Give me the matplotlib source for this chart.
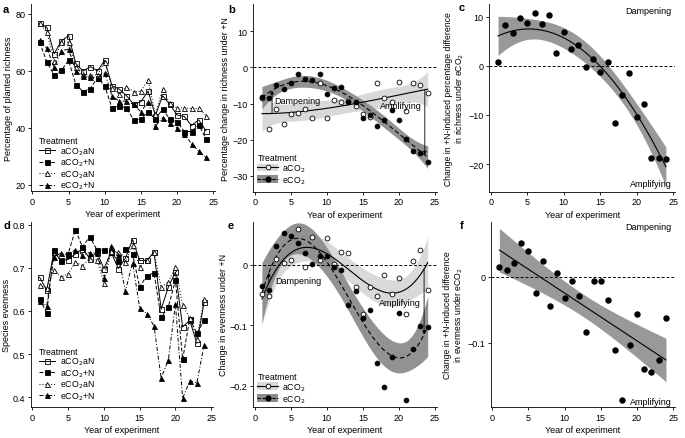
import matplotlib
matplotlib.use("Agg")
import matplotlib.pyplot as plt
from matplotlib.patches import Patch
from matplotlib.lines import Line2D
from matplotlib.ticker import FuncFormatter
import numpy as np

plt.rcParams['font.family'] = ['Liberation Sans', 'DejaVu Sans']
plt.rcParams['font.size'] = 6
plt.rcParams['axes.linewidth'] = 0.6
plt.rcParams['xtick.major.width'] = 0.6
plt.rcParams['ytick.major.width'] = 0.6
plt.rcParams['xtick.major.size'] = 2.5
plt.rcParams['ytick.major.size'] = 2.5
plt.rcParams['xtick.labelsize'] = 6.5
plt.rcParams['ytick.labelsize'] = 6.5

years = np.arange(1, 25)

# panel a: percentage of planted richness
rich_aa = [76.7, 75.3, 66.0, 70.5, 72.4, 62.6, 59.9, 61.5, 60.0, 63.7, 54.8, 53.6,
           51.3, 48.3, 49.2, 52.9, 44.3, 51.3, 48.3, 44.5, 44.0, 40.8, 42.8, 39.0]
rich_an = [70.0, 63.1, 58.5, 60.2, 63.7, 55.2, 52.7, 53.8, 57.6, 54.7, 47.0, 47.7,
           46.9, 42.8, 43.0, 45.7, 43.1, 46.5, 43.1, 42.2, 38.7, 38.7, 41.0, 36.2]
rich_ea = [76.8, 73.5, 63.6, 70.3, 70.0, 61.2, 58.8, 58.5, 58.6, 63.2, 54.1, 51.8,
           54.5, 52.6, 52.9, 56.8, 44.7, 53.5, 48.6, 47.0, 47.0, 46.8, 46.8, 44.3]
rich_en = [70.8, 67.9, 61.2, 67.1, 67.6, 60.0, 58.2, 57.9, 57.6, 59.4, 51.2, 49.4,
           49.4, 48.2, 45.6, 49.2, 40.6, 43.5, 41.8, 40.0, 37.9, 34.4, 31.8, 29.6]

# panel b: change in richness under +N
drich_a = [-8.6, -17.1, -11.6, -15.7, -13.0, -12.7, -11.6, -13.9, -4.4, -14.1, -9.1, -9.5,
           -9.3, -10.8, -13.0, -13.7, -4.4, -8.6, -9.5, -4.0, -12.0, -4.4, -4.9, -7.2]
drich_e = [-8.1, -8.6, -4.9, -6.0, -4.2, -1.9, -3.1, -3.4, -1.9, -7.4, -5.8, -5.4,
           -9.7, -9.7, -14.1, -13.1, -16.2, -14.6, -11.9, -14.5, -19.9, -23.1, -23.6, -26.2]

# panel c: eCO2 effect on richness response
rich_diff = [0.7, 8.3, 6.6, 9.7, 8.7, 10.7, 8.6, 10.4, 2.6, 6.8, 3.4, 4.3,
             -0.3, 1.4, -1.2, 0.7, -11.7, -5.9, -1.4, -10.4, -7.8, -18.7, -18.8, -18.9]

# panel d: species evenness
even_aa = [0.678, 0.648, 0.736, 0.717, 0.719, 0.732, 0.744, 0.722, 0.736, 0.698, 0.736, 0.698,
           0.722, 0.765, 0.717, 0.717, 0.736, 0.604, 0.655, 0.690, 0.563, 0.578, 0.525, 0.620]
even_an = [0.627, 0.596, 0.742, 0.715, 0.732, 0.788, 0.748, 0.772, 0.742, 0.740, 0.736, 0.715,
           0.744, 0.732, 0.655, 0.682, 0.688, 0.585, 0.609, 0.671, 0.488, 0.582, 0.548, 0.578]
even_ea = [0.659, 0.654, 0.694, 0.678, 0.686, 0.713, 0.705, 0.721, 0.718, 0.665, 0.738, 0.736,
           0.713, 0.752, 0.702, 0.717, 0.736, 0.655, 0.667, 0.702, 0.613, 0.584, 0.536, 0.627]
even_en = [0.622, 0.612, 0.725, 0.734, 0.730, 0.742, 0.730, 0.735, 0.734, 0.676, 0.750, 0.730,
           0.646, 0.712, 0.607, 0.594, 0.565, 0.445, 0.486, 0.615, 0.398, 0.438, 0.434, 0.521]

# panel e: change in evenness under +N
deven_a = [-0.049, -0.052, 0.010, 0.004, 0.009, 0.060, -0.003, 0.047, 0.008, 0.044, 0.001, 0.021,
           0.019, -0.036, -0.082, -0.037, -0.052, -0.017, -0.049, -0.022, -0.082, 0.007, 0.024, -0.041]
deven_e = [-0.035, -0.041, 0.031, 0.053, 0.048, 0.036, 0.020, 0.001, 0.014, 0.014, -0.004, -0.009,
           -0.066, -0.043, -0.088, -0.074, -0.163, -0.203, -0.152, -0.079, -0.224, -0.139, -0.102, -0.103]

# panel f: eCO2 effect on evenness response
even_diff = [0.015, 0.010, 0.021, 0.050, 0.039, -0.024, 0.024, -0.045, 0.006, -0.032, -0.006, -0.029,
             -0.083, -0.006, -0.006, -0.036, -0.110, -0.186, -0.103, -0.057, -0.140, -0.144, -0.125, -0.062]


def fit_band(x, y, deg, xs):
    x = np.asarray(x, float)
    y = np.asarray(y, float)
    X = np.vander(x, deg + 1)
    coef = np.linalg.lstsq(X, y, rcond=None)[0]
    resid = y - X @ coef
    s2 = resid @ resid / (len(x) - deg - 1)
    cov = s2 * np.linalg.inv(X.T @ X)
    Xs = np.vander(xs, deg + 1)
    yhat = Xs @ coef
    se = np.sqrt(np.einsum('ij,jk,ik->i', Xs, cov, Xs))
    return yhat, yhat - 2.086 * se, yhat + 2.086 * se, np.poly1d(coef)


def tickfmt(v, pos):
    if abs(v) < 1e-9:
        return '0'
    return ('%g' % v).replace('-', '\u2212')


def style(ax, ylim, yticks, ylabel, yfs=6.5):
    ax.patch.set_visible(False)
    ax.spines['top'].set_visible(False)
    ax.spines['right'].set_visible(False)
    ax.set_xlim(-0.2, 25.25)
    ax.set_ylim(*ylim)
    ax.set_xticks([0, 5, 10, 15, 20, 25])
    ax.set_yticks(yticks)
    ax.yaxis.set_major_formatter(FuncFormatter(tickfmt))
    ax.set_xlabel('Year of experiment', fontsize=6.5, labelpad=2.5)
    ax.set_ylabel(ylabel, fontsize=yfs, labelpad=1.5, linespacing=1.1)
    ax.tick_params(pad=1.5)


fig = plt.figure(figsize=(6.85, 4.39), dpi=100)
W, H = 685., 439.


def add_ax(l, r, t, b):
    return fig.add_axes([l / W, 1 - b / H, (r - l) / W, (b - t) / H])


ax_a = add_ax(31, 215, 5, 192.3)
ax_b = add_ax(253.3, 436.7, 5, 192.5)
ax_c = add_ax(489.3, 675, 5, 192.5)
ax_d = add_ax(31, 213, 222.5, 408.3)
ax_e = add_ax(253.3, 436.7, 222.5, 408.3)
ax_f = add_ax(490.7, 675, 222.5, 408.3)

treat_styles = [
    ('aCO$_2$aN', '-', 's', 'none'),
    ('aCO$_2$+N', (0, (4, 2)), 's', 'black'),
    ('eCO$_2$aN', (0, (1, 2)), '^', 'white'),
    ('eCO$_2$+N', (0, (4, 2, 1, 2)), '^', 'black'),
]


def treatment_panel(ax, series, ylim, yticks, ylabel, anchor):
    for (lab, ls, mk, mfc), vals in zip(treat_styles, series):
        ax.plot(years, vals, ls=ls, marker=mk, mfc=mfc, mec='black', color='black',
                lw=0.7, ms=3.6, mew=0.6, label=lab)
    style(ax, ylim, yticks, ylabel)
    leg = ax.legend(loc='lower left', frameon=False, title='Treatment', fontsize=6.3,
                    title_fontsize=6.3, handlelength=1.85, handletextpad=0.55,
                    labelspacing=0.0, borderaxespad=0.0, borderpad=0.0,
                    bbox_to_anchor=anchor)
    leg._legend_box.align = 'left'


treatment_panel(ax_a, [rich_aa, rich_an, rich_ea, rich_en], (17.7, 83.5), [20, 40, 60, 80],
                'Percentage of planted richness', (0.045, 0.0))
treatment_panel(ax_d, [even_aa, even_an, even_ea, even_en], (0.377, 0.807),
                [0.4, 0.5, 0.6, 0.7, 0.8], 'Species evenness', (0.045, 0.03))

xs = np.linspace(1, 24, 200)
light = '#d9d9d9'
dark = '#8c8c8c'


def response_panel(ax, ya, ye, ylim, yticks, ylabel, damp, amp, anchor):
    ha, la, ua, pa = fit_band(years, ya, 3, xs)
    he, le, ue, pe = fit_band(years, ye, 3, xs)
    ax.fill_between(xs, la, ua, color=light, lw=0, zorder=1)
    ax.fill_between(xs, le, ue, color=dark, lw=0, zorder=2, alpha=0.95)
    ax.axhline(0, color='black', lw=0.7, ls=(0, (3, 2)), zorder=3)
    ax.plot(xs, ha, color='black', lw=0.8, zorder=4)
    ax.plot(xs, he, color='black', lw=0.8, ls=(0, (4, 2.5)), zorder=4)
    ax.scatter(years, ya, s=12, facecolor='white', edgecolor='black', lw=0.6, zorder=5)
    ax.scatter(years, ye, s=12, facecolor='black', edgecolor='black', lw=0.6, zorder=5)
    # dampening / amplifying arrows between the two fitted curves
    xd, tdx, tdy = damp
    ax.annotate('', xy=(xd, pe(xd)), xytext=(xd, pa(xd)),
                arrowprops=dict(arrowstyle='-|>', lw=0.6, color='black',
                                mutation_scale=5, shrinkA=0, shrinkB=0), zorder=6)
    ax.text(tdx, tdy, 'Dampening', fontsize=6.5, ha='left', va='center', zorder=6)
    xa, tax, tay = amp
    ax.annotate('', xy=(xa, pe(xa)), xytext=(xa, pa(xa)),
                arrowprops=dict(arrowstyle='-|>', lw=0.6, color='black',
                                mutation_scale=5, shrinkA=0, shrinkB=0), zorder=6)
    ax.text(tax, tay, 'Amplifying', fontsize=6.5, ha='right', va='center', zorder=6)
    style(ax, ylim, yticks, ylabel)
    h_a = (Patch(facecolor=light, edgecolor='none'),
           Line2D([], [], color='black', lw=0.8, marker='o', mfc='white', mec='black', ms=3.4, mew=0.6))
    h_e = (Patch(facecolor=dark, edgecolor='none'),
           Line2D([], [], color='black', lw=0.8, ls=(0, (3, 1.5)), marker='o', mfc='black',
                  mec='black', ms=3.4))
    leg = ax.legend([h_a, h_e], ['aCO$_2$', 'eCO$_2$'], loc='lower left', frameon=False,
                    title='Treatment', fontsize=6.3, title_fontsize=6.3, handlelength=2.4,
                    handleheight=1.0, handletextpad=0.4, labelspacing=0.05, borderaxespad=0.0,
                    borderpad=0.0, bbox_to_anchor=anchor)
    leg._legend_box.align = 'left'


response_panel(ax_b, drich_a, drich_e, (-34.4, 17.6), [-30, -20, -10, 0, 10],
               'Percentage change in richness under +N',
               (2.4, 2.7, -9.3), (23.6, 23.2, -10.5), (0.022, 0.03))
response_panel(ax_e, deven_a, deven_e, (-0.236, 0.072), [-0.2, -0.1, 0],
               'Change in evenness under +N',
               (1.95, 2.8, -0.025), (23.5, 23.1, -0.063), (0.022, 0.015))


def diff_panel(ax, y, deg, ylim, yticks, ylabel, top_y, bot_y):
    h, lo, hi, p = fit_band(years, y, deg, xs)
    ax.fill_between(xs, lo, hi, color='#999999', lw=0, zorder=1)
    ax.axhline(0, color='black', lw=0.7, ls=(0, (3, 2)), zorder=2)
    ax.plot(xs, h, color='black', lw=0.8, zorder=3)
    ax.scatter(years, y, s=13, color='black', zorder=4)
    ax.text(24.8, top_y, 'Dampening', fontsize=6.5, ha='right', va='center')
    ax.text(24.8, bot_y, 'Amplifying', fontsize=6.5, ha='right', va='center')
    style(ax, ylim, yticks, ylabel, yfs=6.2)


diff_panel(ax_c, rich_diff, 2, (-25.6, 12.6), [-20, -10, 0, 10],
           'Change in +N-induced percentage difference\nin richness under eCO$_2$', 11.2, -24.0)
diff_panel(ax_f, even_diff, 1, (-0.197, 0.083), [-0.1, 0],
           'Change in +N-induced difference\nin evenness under eCO$_2$', 0.075, -0.188)

for lab, x, y in [('a', 3, 10), ('b', 228, 10), ('c', 459, 8),
                  ('d', 3, 226), ('e', 228, 226), ('f', 460, 226)]:
    fig.text(x / W, 1 - y / H, lab, fontsize=8, fontweight='bold', ha='left', va='center')

fig.savefig('out.png', dpi=100)
